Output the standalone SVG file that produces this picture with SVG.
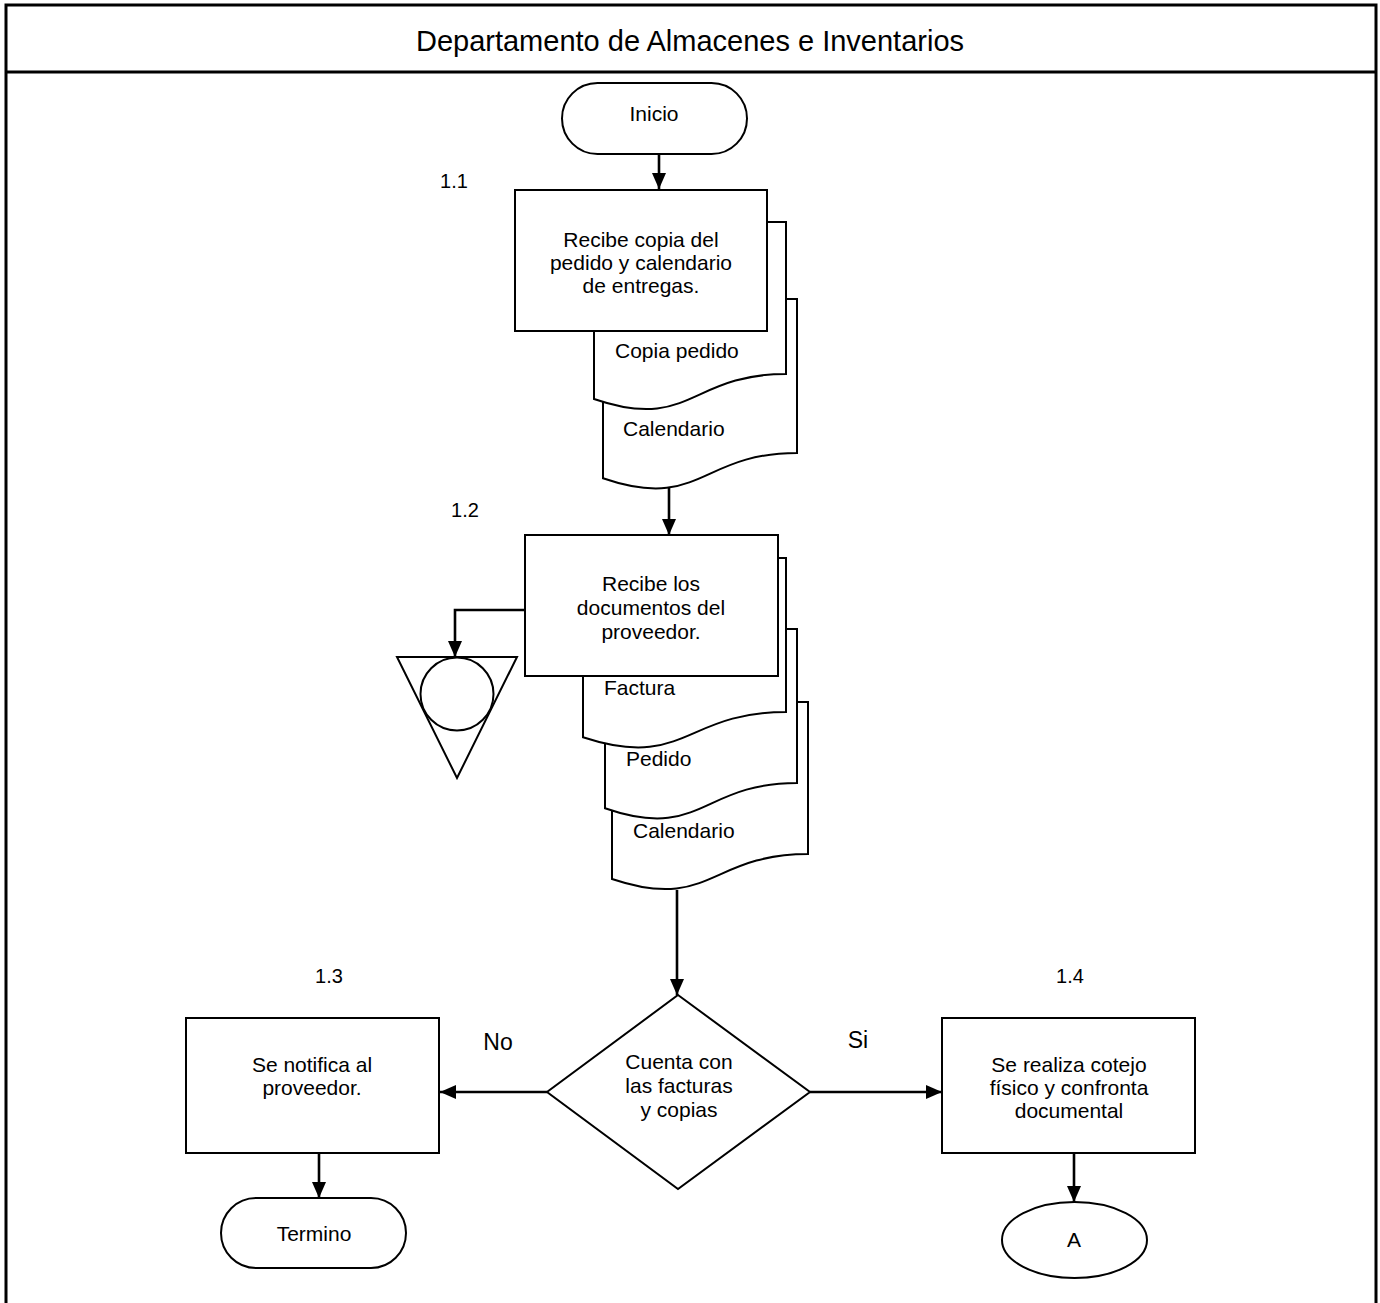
<svg xmlns="http://www.w3.org/2000/svg" width="1380" height="1303" viewBox="0 0 1380 1303">
  <style>
    .shape { fill: #fff; stroke: #000; stroke-width: 2; }
    .frame { fill: none; stroke: #000; stroke-width: 3; }
    .conn { fill: none; stroke: #000; stroke-width: 2.6; }
    text { font-family: "Liberation Sans", Arial, sans-serif; fill: #000; }
    .t { font-size: 21px; text-anchor: middle; }
    .tl { font-size: 21px; }
    .lbl { font-size: 20px; text-anchor: middle; }
    .head { font-size: 29px; text-anchor: middle; }
    .yn { font-size: 23px; text-anchor: middle; }
  </style>
  <defs>
    <marker id="arrow" viewBox="0 0 16 14" refX="16" refY="7" markerWidth="16" markerHeight="14" markerUnits="userSpaceOnUse" orient="auto">
      <path d="M0,0 L16,7 L0,14 Z" fill="#000"/>
    </marker>
  </defs>

  <rect width="1380" height="1303" fill="#fff"/>

  <!-- swimlane frame -->
  <g id="lane">
    <rect class="frame" x="6" y="5" width="1370" height="1310"/>
    <line class="frame" x1="6" y1="72" x2="1376" y2="72"/>
    <text class="head" x="690" y="51">Departamento de Almacenes e Inventarios</text>
  </g>

  <!-- connectors -->
  <g id="connectors">
    <line class="conn" x1="659" y1="154" x2="659" y2="189" marker-end="url(#arrow)"/>
    <line class="conn" x1="669" y1="486" x2="669" y2="535" marker-end="url(#arrow)"/>
    <polyline class="conn" points="525,610 455,610 455,657" marker-end="url(#arrow)"/>
    <line class="conn" x1="677" y1="890" x2="677" y2="995" marker-end="url(#arrow)"/>
    <line class="conn" x1="547" y1="1092" x2="440" y2="1092" marker-end="url(#arrow)"/>
    <line class="conn" x1="810" y1="1092" x2="942" y2="1092" marker-end="url(#arrow)"/>
    <line class="conn" x1="319" y1="1153" x2="319" y2="1198" marker-end="url(#arrow)"/>
    <line class="conn" x1="1074" y1="1153" x2="1074" y2="1202" marker-end="url(#arrow)"/>
  </g>

  <!-- start -->
  <g id="inicio">
    <rect class="shape" x="562" y="83" width="185" height="71" rx="35.5"/>
    <text class="t" x="654" y="121">Inicio</text>
  </g>

  <!-- step 1.1 with its documents -->
  <g id="doc-calendario-1">
    <path class="shape" d="M603,299 H797 V453 C700,453 700,511.6 603,478.3 Z"/>
    <text class="tl" x="623" y="436">Calendario</text>
  </g>
  <g id="doc-copia-pedido">
    <path class="shape" d="M594,222 H786 V374 C690,374 690,432 594,399 Z"/>
    <text class="tl" x="615" y="358">Copia pedido</text>
  </g>
  <g id="step-1-1">
    <text class="lbl" x="454" y="188">1.1</text>
    <rect class="shape" x="515" y="190" width="252" height="141"/>
    <text class="t" x="641" y="247">Recibe copia del</text>
    <text class="t" x="641" y="270">pedido y calendario</text>
    <text class="t" x="641" y="293">de entregas.</text>
  </g>

  <!-- step 1.2 with its documents -->
  <g id="doc-calendario-2">
    <path class="shape" d="M612,702 H808 V854 C710,854 710,912 612,879 Z"/>
    <text class="tl" x="633" y="838">Calendario</text>
  </g>
  <g id="doc-pedido">
    <path class="shape" d="M605,629 H797 V783 C701,783 701,841.6 605,808.3 Z"/>
    <text class="tl" x="626" y="766">Pedido</text>
  </g>
  <g id="doc-factura">
    <path class="shape" d="M583,558 H786 V712 C684.5,712 684.5,770.6 583,737.3 Z"/>
    <text class="tl" x="604" y="695">Factura</text>
  </g>
  <g id="step-1-2">
    <text class="lbl" x="465" y="517">1.2</text>
    <rect class="shape" x="525" y="535" width="253" height="141"/>
    <text class="t" x="651" y="591">Recibe los</text>
    <text class="t" x="651" y="615">documentos del</text>
    <text class="t" x="651" y="639">proveedor.</text>
  </g>

  <!-- file / archive -->
  <g id="archivo">
    <polygon class="shape" points="397,657 517,657 457,778"/>
    <circle class="shape" cx="457" cy="694" r="36.5"/>
  </g>

  <!-- decision -->
  <g id="decision">
    <polygon class="shape" points="678,995 810,1092 678,1189 547,1092"/>
    <text class="t" x="679" y="1069">Cuenta con</text>
    <text class="t" x="679" y="1093">las facturas</text>
    <text class="t" x="679" y="1117">y copias</text>
    <text class="yn" x="498" y="1050">No</text>
    <text class="yn" x="858" y="1048">Si</text>
  </g>

  <!-- step 1.3 -->
  <g id="step-1-3">
    <text class="lbl" x="329" y="983">1.3</text>
    <rect class="shape" x="186" y="1018" width="253" height="135"/>
    <text class="t" x="312" y="1072">Se notifica al</text>
    <text class="t" x="312" y="1095">proveedor.</text>
  </g>

  <!-- step 1.4 -->
  <g id="step-1-4">
    <text class="lbl" x="1070" y="983">1.4</text>
    <rect class="shape" x="942" y="1018" width="253" height="135"/>
    <text class="t" x="1069" y="1072">Se realiza cotejo</text>
    <text class="t" x="1069" y="1095">físico y confronta</text>
    <text class="t" x="1069" y="1118">documental</text>
  </g>

  <!-- end -->
  <g id="termino">
    <rect class="shape" x="221" y="1198" width="185" height="70" rx="35"/>
    <text class="t" x="314" y="1241">Termino</text>
  </g>

  <!-- off-page connector -->
  <g id="conector-a">
    <ellipse class="shape" cx="1074.5" cy="1240" rx="72.5" ry="38"/>
    <text class="t" x="1074" y="1247">A</text>
  </g>
</svg>
